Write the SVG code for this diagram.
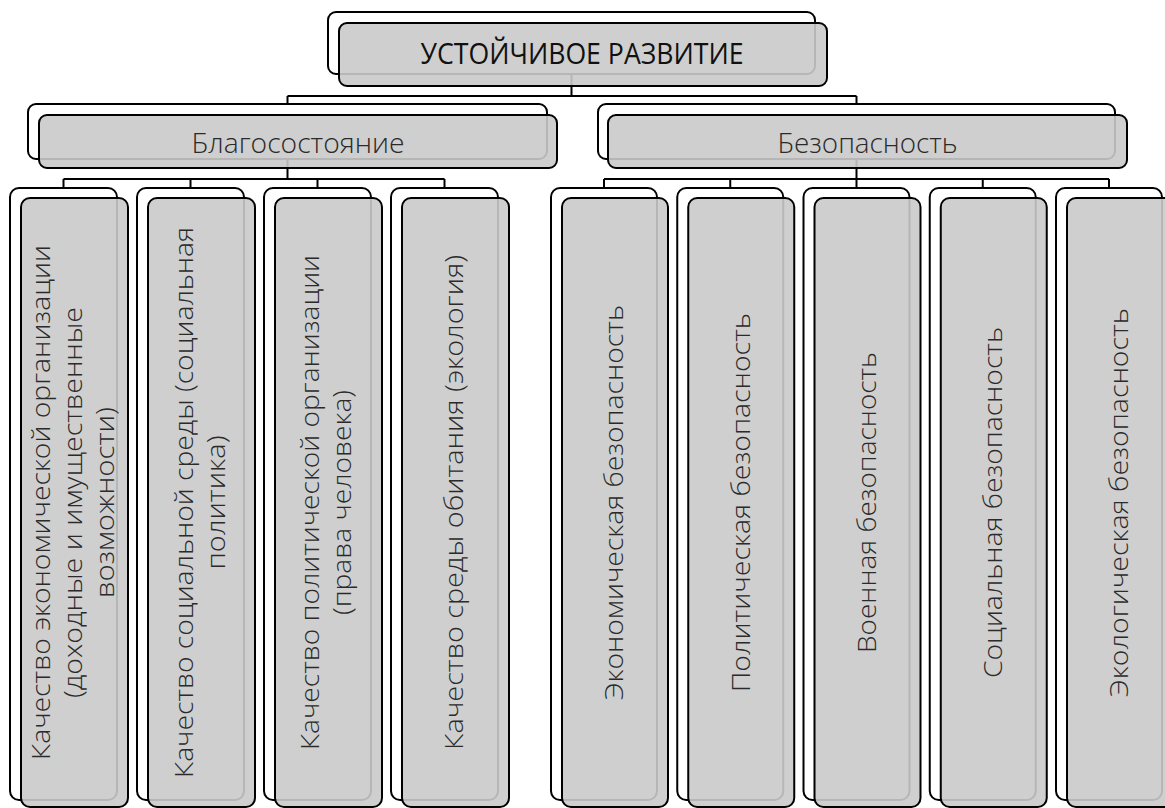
<svg xmlns="http://www.w3.org/2000/svg" width="1165" height="808" viewBox="0 0 1165 808">
<style>
.bk{fill:#ffffff;stroke:#000;stroke-width:2}
.fr{fill:#cacaca;fill-opacity:0.9;stroke:#000;stroke-width:2}
.cn{fill:none;stroke:#000;stroke-width:2}
.t{font-family:"Open Sans","Noto Sans","Liberation Sans",sans-serif;fill:#2a2a2a;text-anchor:middle}
.h{font-size:27px;font-weight:300}
.top{font-size:29px;font-weight:400;fill:#111}
.v{font-size:26px;font-weight:300}
</style>
<rect width="1165" height="808" fill="#ffffff"/>
<g id="connectors">
<path class="cn" d="M571.5,74V96M287.5,96H856.5M287.5,96V104M856.5,96V104"/>
<path class="cn" d="M287.5,159V179M63.5,179H444.5M63.5,179V188M190.5,179V188M317.5,179V188M444.5,179V188"/>
<path class="cn" d="M856.5,159V188M604,179H1109M604,179V188M730.25,179V188M982.75,179V188M1109,179V188"/>
</g>
<g id="n-root">
<rect class="bk" x="328" y="12" width="487" height="62" rx="8"/>
<rect class="fr" x="339" y="23" width="488" height="63" rx="8"/>
<text class="t top" x="582" y="64" textLength="323" lengthAdjust="spacingAndGlyphs">УСТОЙЧИВОЕ РАЗВИТИЕ</text>
</g>
<g id="n-welfare">
<rect class="bk" x="28" y="104" width="519" height="55" rx="8"/>
<rect class="fr" x="39" y="115" width="518" height="53" rx="8"/>
<text class="t h" x="298" y="153" textLength="213" lengthAdjust="spacingAndGlyphs">Благосостояние</text>
</g>
<g id="n-security">
<rect class="bk" x="598" y="104" width="517" height="55" rx="8"/>
<rect class="fr" x="608" y="115" width="519" height="53" rx="8"/>
<text class="t h" x="867.5" y="153" textLength="180" lengthAdjust="spacingAndGlyphs">Безопасность</text>
</g>
<g id="n-w1">
<rect class="bk" x="10" y="188" width="107" height="612" rx="9"/>
<rect class="fr" x="21" y="198" width="107" height="609" rx="9"/>
<text class="t v" transform="translate(50,502.5) rotate(-90)" textLength="515" lengthAdjust="spacingAndGlyphs">Качество экономической организации</text>
<text class="t v" transform="translate(82,502.5) rotate(-90)" textLength="391" lengthAdjust="spacingAndGlyphs">(доходные и имущественные</text>
<text class="t v" transform="translate(114,502.5) rotate(-90)" textLength="191" lengthAdjust="spacingAndGlyphs">возможности)</text>
</g>
<g id="n-w2">
<rect class="bk" x="137" y="188" width="107" height="612" rx="9"/>
<rect class="fr" x="148" y="198" width="107" height="609" rx="9"/>
<text class="t v" transform="translate(192.5,502.5) rotate(-90)" textLength="551" lengthAdjust="spacingAndGlyphs">Качество социальной среды (социальная</text>
<text class="t v" transform="translate(224.5,502.5) rotate(-90)" textLength="134" lengthAdjust="spacingAndGlyphs">политика)</text>
</g>
<g id="n-w3">
<rect class="bk" x="264" y="188" width="107" height="612" rx="9"/>
<rect class="fr" x="275" y="198" width="107" height="609" rx="9"/>
<text class="t v" transform="translate(319,502.5) rotate(-90)" textLength="495" lengthAdjust="spacingAndGlyphs">Качество политической организации</text>
<text class="t v" transform="translate(351,502.5) rotate(-90)" textLength="225" lengthAdjust="spacingAndGlyphs">(права человека)</text>
</g>
<g id="n-w4">
<rect class="bk" x="391" y="188" width="107" height="612" rx="9"/>
<rect class="fr" x="402" y="198" width="107" height="609" rx="9"/>
<text class="t v" transform="translate(463,502.5) rotate(-90)" textLength="495" lengthAdjust="spacingAndGlyphs">Качество среды обитания (экология)</text>
</g>
<g id="n-s1">
<rect class="bk" x="551" y="188" width="106" height="612" rx="9"/>
<rect class="fr" x="562" y="198" width="106" height="609" rx="9"/>
<text class="t v" transform="translate(623,502.5) rotate(-90)" textLength="395" lengthAdjust="spacingAndGlyphs">Экономическая безопасность</text>
</g>
<g id="n-s2">
<rect class="bk" x="677.25" y="188" width="106" height="612" rx="9"/>
<rect class="fr" x="688.25" y="198" width="106" height="609" rx="9"/>
<text class="t v" transform="translate(749.5,502.5) rotate(-90)" textLength="379" lengthAdjust="spacingAndGlyphs">Политическая безопасность</text>
</g>
<g id="n-s3">
<rect class="bk" x="803.5" y="188" width="106" height="612" rx="9"/>
<rect class="fr" x="814.5" y="198" width="106" height="609" rx="9"/>
<text class="t v" transform="translate(876,502.5) rotate(-90)" textLength="301" lengthAdjust="spacingAndGlyphs">Военная безопасность</text>
</g>
<g id="n-s4">
<rect class="bk" x="929.75" y="188" width="106" height="612" rx="9"/>
<rect class="fr" x="940.75" y="198" width="106" height="609" rx="9"/>
<text class="t v" transform="translate(1002,502.5) rotate(-90)" textLength="351" lengthAdjust="spacingAndGlyphs">Социальная безопасность</text>
</g>
<g id="n-s5">
<rect class="bk" x="1056" y="188" width="106" height="612" rx="9"/>
<rect class="fr" x="1067" y="198" width="106" height="609" rx="9"/>
<text class="t v" transform="translate(1128,502.5) rotate(-90)" textLength="389" lengthAdjust="spacingAndGlyphs">Экологическая безопасность</text>
</g>
</svg>
